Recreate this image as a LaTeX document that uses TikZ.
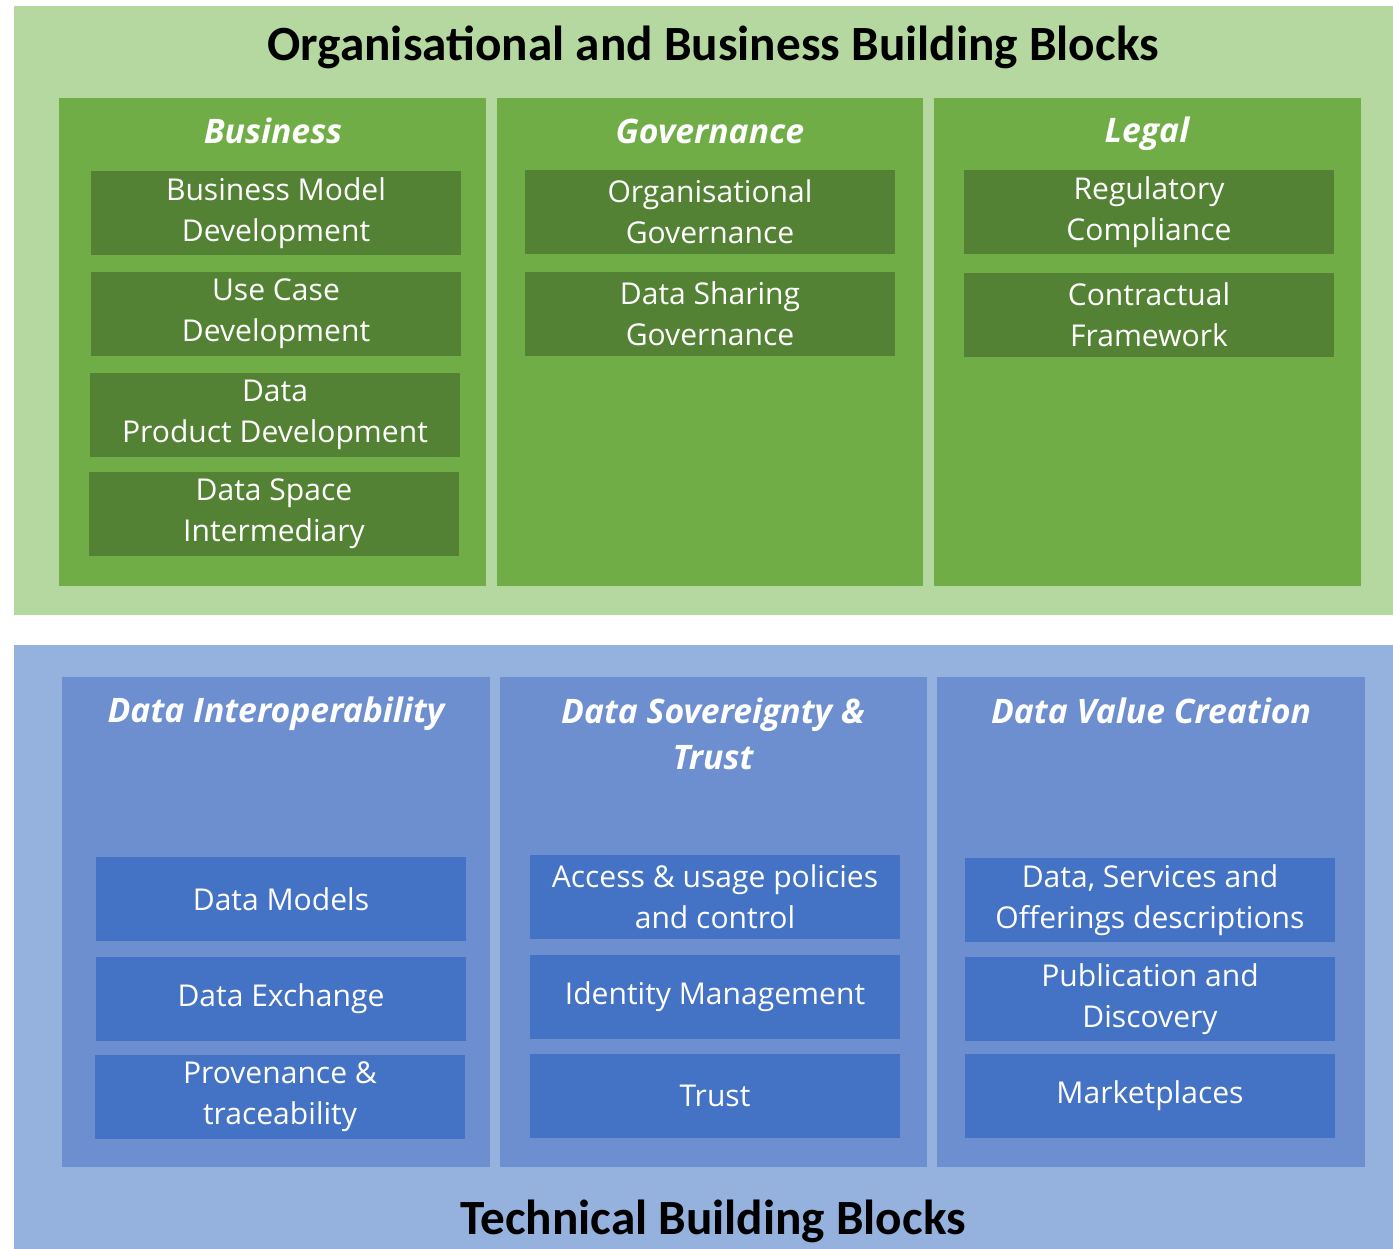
\documentclass[tikz,border=0pt]{standalone}
\usepackage{fontspec}
\setmainfont{Open Sans}
\newfontfamily\titlefont{Carlito}

\definecolor{orgback}{HTML}{B4D89F}
\definecolor{orgcol}{HTML}{70AD47}
\definecolor{orgbox}{HTML}{548235}
\definecolor{techback}{HTML}{95B1DD}
\definecolor{techcol}{HTML}{6D8ECF}
\definecolor{techbox}{HTML}{4472C4}

\begin{document}
\begin{tikzpicture}[x=0.01cm,y=-0.01cm,
	gbox/.style={fill=orgbox, inner sep=0pt, minimum width=3.7cm, minimum height=0.84cm,
		text=white, align=center, font=\fontsize{8.55}{11.7}\selectfont},
	bbox/.style={gbox, fill=techbox},
	colhead/.style={text=white, align=center, font=\fontsize{9.6}{13}\selectfont\bfseries\itshape},
	maintitle/.style={text=black, font=\titlefont\bfseries\fontsize{14}{16}\selectfont}]
	
	\useasboundingbox (0,0) rectangle (1393,1249);
	
	% the two big areas
	\fill[orgback] (14,6) rectangle (1393,615);
	\fill[techback] (14,645) rectangle (1393,1249);
	
	% columns, top
	\fill[orgcol] (59,98) rectangle (486,586);
	\fill[orgcol] (497,98) rectangle (923,586);
	\fill[orgcol] (934,98) rectangle (1361,586);
	
	% columns, bottom
	\fill[techcol] (62,677) rectangle (490,1167);
	\fill[techcol] (500,677) rectangle (927,1167);
	\fill[techcol] (937,677) rectangle (1365,1167);
	
	\node[maintitle] (orgtitle) at (713,47) {Organisational and Business Building Blocks};
	\node[maintitle] (techtitle) at (713,1221) {Technical Building Blocks};
	
	% Business
	\node[colhead] (business) at (273,131) {Business};
	\node[gbox] (bmodel) at (276,213) {Business Model\\Development};
	\node[gbox] (usecase) at (276,314) {Use Case\\Development};
	\node[gbox] (product) at (275,415) {Data\\Product Development};
	\node[gbox] (intermed) at (274,514) {Data Space\\Intermediary};
	
	% Governance
	\node[colhead] (governance) at (710,131) {Governance};
	\node[gbox] (orggov) at (710,212) {Organisational\\Governance};
	\node[gbox] (sharegov) at (710,314) {Data Sharing\\Governance};
	
	% Legal
	\node[colhead] (legal) at (1147,134) {Legal};
	\node[gbox] (regulatory) at (1149,212) {Regulatory\\Compliance};
	\node[gbox] (contract) at (1149,315) {Contractual\\Framework};
	
	% Data Interoperability
	\node[colhead] (interop) at (276,714) {Data Interoperability};
	\node[bbox] (models) at (281,899) {Data Models};
	\node[bbox] (exchange) at (281,999) {Data Exchange};
	\node[bbox] (provenance) at (280,1097) {Provenance \&\\traceability};
	
	% Data Sovereignty & Trust
	\node[colhead] (sovereignty) at (713,734) {Data Sovereignty \&\\Trust};
	\node[bbox] (policies) at (715,897) {Access \& usage policies\\and control};
	\node[bbox] (identity) at (715,997) {Identity Management};
	\node[bbox] (trust) at (715,1096) {Trust};
	
	% Data Value Creation
	\node[colhead] (value) at (1151,711) {Data Value Creation};
	\node[bbox] (offerings) at (1150,900) {Data, Services and\\Offerings descriptions};
	\node[bbox] (discovery) at (1150,999) {Publication and\\Discovery};
	\node[bbox] (market) at (1150,1096) {Marketplaces};
	
\end{tikzpicture}
\end{document}
